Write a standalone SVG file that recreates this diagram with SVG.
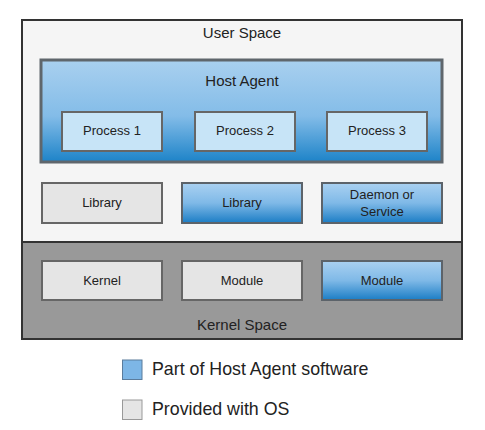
<svg xmlns="http://www.w3.org/2000/svg" width="485" height="430" viewBox="0 0 485 430">
<defs>
<linearGradient id="blue" x1="0" y1="0" x2="0" y2="1">
<stop offset="0" stop-color="#aad1f1"/>
<stop offset="0.5" stop-color="#7fb9e7"/>
<stop offset="1" stop-color="#1b7dc5"/>
</linearGradient>
<linearGradient id="host" x1="0" y1="0" x2="0" y2="1">
<stop offset="0" stop-color="#a9d0ef"/>
<stop offset="0.55" stop-color="#83bce8"/>
<stop offset="1" stop-color="#1d83c8"/>
</linearGradient>
<style>
text{font-family:"Liberation Sans",Arial,sans-serif;fill:#222;text-anchor:middle}
.big{font-size:15px}
.lbl{font-size:13px}
.gray{fill:#e5e5e5;stroke:#666;stroke-width:2}
.bl{fill:url(#blue);stroke:#5c636a;stroke-width:2}
.proc{fill:#c7e4f7;stroke:#666;stroke-width:2}
.leg{font-size:17.8px;text-anchor:start}
</style>
</defs>
<g id="user-space">
<rect x="22" y="20" width="440" height="222" fill="#f5f5f5" stroke="#333" stroke-width="2"/>
<text class="big" x="242" y="38">User Space</text>
</g>
<g id="kernel-space">
<rect x="22" y="242" width="440" height="97" fill="#999" stroke="#333" stroke-width="2"/>
<text class="big" x="242" y="330">Kernel Space</text>
</g>
<g id="host-agent">
<rect x="41" y="60" width="401" height="102" fill="url(#host)" stroke="#5f666c" stroke-width="3"/>
<text class="big" x="242" y="86">Host Agent</text>
</g>
<g id="process1"><rect class="proc" x="62" y="112" width="100" height="39"/><text class="lbl" x="112" y="135">Process 1</text></g>
<g id="process2"><rect class="proc" x="195" y="112" width="100" height="39"/><text class="lbl" x="245" y="135">Process 2</text></g>
<g id="process3"><rect class="proc" x="327" y="112" width="100" height="39"/><text class="lbl" x="377" y="135">Process 3</text></g>
<g id="library-os"><rect class="gray" x="42" y="183" width="120" height="40"/><text class="lbl" x="102" y="207">Library</text></g>
<g id="library-agent"><rect class="bl" x="182" y="183" width="120" height="40"/><text class="lbl" x="242" y="207">Library</text></g>
<g id="daemon"><rect class="bl" x="322" y="183" width="120" height="40"/><text class="lbl" x="382" y="199">Daemon or</text><text class="lbl" x="382" y="216">Service</text></g>
<g id="kernel"><rect class="gray" x="42" y="261" width="120" height="39"/><text class="lbl" x="102" y="285">Kernel</text></g>
<g id="module-os"><rect class="gray" x="182" y="261" width="120" height="39"/><text class="lbl" x="242" y="285">Module</text></g>
<g id="module-agent"><rect class="bl" x="322" y="261" width="120" height="39"/><text class="lbl" x="382" y="285">Module</text></g>
<g id="connectors"></g>
<g id="legend">
<rect x="122.5" y="360" width="19.5" height="19.5" fill="#7db6e6" stroke="#5b7c9c" stroke-width="1"/>
<text class="leg" x="152" y="375">Part of Host Agent software</text>
<rect x="122.5" y="400" width="19.5" height="19.5" fill="#e5e5e5" stroke="#999" stroke-width="1"/>
<text class="leg" x="152" y="415">Provided with OS</text>
</g>
</svg>
